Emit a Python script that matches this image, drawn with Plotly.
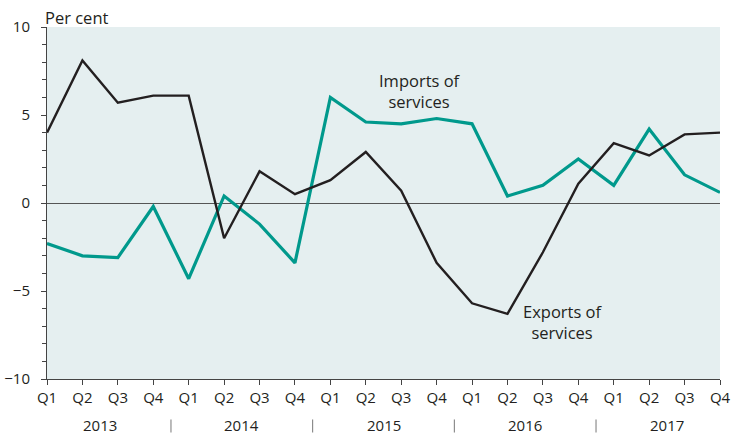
import plotly.graph_objects as go

quarters = ["Q1", "Q2", "Q3", "Q4"] * 5
years = ["2013", "2014", "2015", "2016", "2017"]
exports = [4.0, 8.1, 5.7, 6.1, 6.1, -2.0, 1.8, 0.5, 1.3, 2.9, 0.7, -3.4,
           -5.7, -6.3, -2.8, 1.1, 3.4, 2.7, 3.9, 4.0]
imports = [-2.3, -3.0, -3.1, -0.2, -4.3, 0.4, -1.2, -3.4, 6.0, 4.6, 4.5, 4.8,
           4.5, 0.4, 1.0, 2.5, 1.0, 4.2, 1.6, 0.6]

x = list(range(len(quarters)))
TXT = "#231f20"
FONT = "Open Sans"

fig = go.Figure()
fig.add_trace(go.Scatter(x=x, y=imports, mode="lines",
                         line=dict(color="#00998c", width=3.2), cliponaxis=False))
fig.add_trace(go.Scatter(x=x, y=exports, mode="lines",
                         line=dict(color="#231f20", width=2.4), cliponaxis=False))

fig.update_layout(
    width=731, height=434,
    margin=dict(l=47, r=11, t=27, b=55, autoexpand=False),
    plot_bgcolor="#e5eff0", paper_bgcolor="white",
    showlegend=False,
    font=dict(family=FONT, size=15, color=TXT),
)
fig.update_xaxes(range=[0, 19], tickvals=x, ticktext=quarters,
                 showgrid=False, zeroline=False, automargin=False,
                 showline=True, linecolor="#444", linewidth=1,
                 ticks="outside", ticklen=5, tickcolor="#444",
                 tickfont=dict(size=15, color=TXT))
fig.update_yaxes(range=[-10, 10], tickvals=[-10, -5, 0, 5, 10],
                 showgrid=False, zeroline=True, zerolinecolor="#555", zerolinewidth=1,
                 showline=True, linecolor="#444", linewidth=1, automargin=False,
                 ticks="outside", ticklen=5, tickcolor="#444",
                 minor=dict(dtick=1, ticks="outside", ticklen=4, tickcolor="#444"),
                 ticklabelstandoff=8,
                 tickfont=dict(size=15, color=TXT))

ann = [
    dict(text="Per cent", xref="paper", yref="paper", x=0, y=1, xanchor="left",
         yanchor="bottom", showarrow=False, font=dict(size=16.5, color=TXT), xshift=-4, yshift=-4),
    dict(text="Imports of<br>services", xref="x", yref="y", x=10.53, y=6.37,
         showarrow=False, font=dict(size=16.5, color=TXT)),
    dict(text="Exports of<br>services", xref="x", yref="y", x=14.57, y=-6.78,
         showarrow=False, font=dict(size=16.5, color=TXT)),
]
for i, yr in enumerate(years):
    ann.append(dict(text=yr, xref="x", yref="paper", x=4 * i + 1.5, y=0,
                    yanchor="middle", yshift=-46, showarrow=False,
                    font=dict(size=15, color=TXT)))
fig.update_layout(annotations=ann)

seps = [-0.13, 3.5, 7.5, 11.5, 15.5, 19.08]
for s in seps:
    fig.add_shape(type="line", xref="x", yref="paper", x0=s, x1=s,
                  y0=-0.115, y1=-0.152, line=dict(color="#777", width=1))

fig.write_html("out.html", config={"displayModeBar": False},
               post_script="document.body.style.margin='0';document.body.style.padding='0';"
                           "document.body.style.overflow='hidden';")
